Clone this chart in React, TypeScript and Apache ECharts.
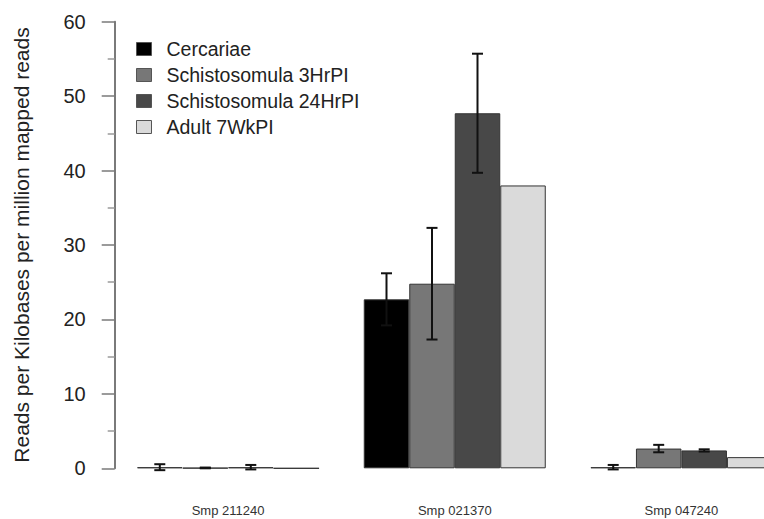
import React, { useEffect, useRef } from "react";
import * as echarts from "echarts";

const categories = ["Smp 211240", "Smp 021370", "Smp 047240"];
const seriesNames = ["Cercariae", "Schistosomula 3HrPI", "Schistosomula 24HrPI", "Adult 7WkPI"];
const cercariae = [0.15, 22.7, 0.15];
const cercariaeErr = [0.4, 3.5, 0.3];
const schisto3 = [0.05, 24.8, 2.65];
const schisto3Err = [0.05, 7.5, 0.5];
const schisto24 = [0.15, 47.7, 2.4];
const schisto24Err = [0.3, 8.0, 0.15];
const adult = [0.0, 38.0, 1.5];
const adultErr = [0, 0, 0];
const yTicks = [0, 10, 20, 30, 40, 50, 60];

const colors = ["#000000", "#777777", "#484848", "#dadada"];
const values = [cercariae, schisto3, schisto24, adult];
const errors = [cercariaeErr, schisto3Err, schisto24Err, adultErr];

const GRID_LEFT = 114.7;
const BAND = 226.7; // px per category
const BAR_W = 45.5;

export default function App() {
  const ref = useRef<HTMLDivElement>(null);
  useEffect(() => {
    document.body.style.margin = "0";
    const chart = echarts.init(ref.current!, null, { renderer: "svg" });
    const gridWidth = 764 - GRID_LEFT;
    const xMax = gridWidth / BAND;
    const barSeries = values.map((v, i) => ({
      name: seriesNames[i],
      type: "bar",
      data: v.map((val, k) => [k + 0.5, val]),
      barWidth: BAR_W,
      barGap: "0%",
      itemStyle: { color: colors[i], borderColor: "#333333", borderWidth: 1 },
    }));
    const errSeries = values.map((v, i) => ({
      name: seriesNames[i] + " err",
      type: "custom",
      z: 5,
      data: v.map((val, k) => [k + 0.5, val - errors[i][k], val + errors[i][k], errors[i][k]]),
      renderItem: (params: any, api: any) => {
        if (api.value(3) <= 0) return null;
        const cx = api.value(0);
        const lo = api.coord([cx, api.value(1)]);
        const hi = api.coord([cx, api.value(2)]);
        const x = lo[0] + (i - 1.5) * BAR_W;
        const cap = 5.5;
        const st = { stroke: "#111111", lineWidth: 2 };
        return {
          type: "group",
          children: [
            { type: "line", shape: { x1: x, y1: lo[1], x2: x, y2: hi[1] }, style: st },
            { type: "line", shape: { x1: x - cap, y1: hi[1], x2: x + cap, y2: hi[1] }, style: st },
            { type: "line", shape: { x1: x - cap, y1: lo[1], x2: x + cap, y2: lo[1] }, style: st },
          ],
        };
      },
    }));
    chart.setOption({
      animation: false,
      textStyle: { fontFamily: "Liberation Sans, Arial, sans-serif" },
      grid: { left: GRID_LEFT, top: 21.7, right: 0, height: 446.6, containLabel: false },
      legend: {
        data: seriesNames.map((n, i) => ({ name: n, itemStyle: { color: colors[i], borderColor: "#555555", borderWidth: 1 } })),
        orient: "vertical",
        left: 131,
        top: 34,
        icon: "rect",
        itemWidth: 15,
        itemHeight: 13,
        itemGap: 6,
        selectedMode: false,
        textStyle: { fontSize: 19.5, color: "#222222", padding: [0, 0, 0, 10] },
      },
      xAxis: {
        type: "value",
        min: 0,
        max: xMax,
        interval: 0.5,
        splitLine: { show: false },
        axisLine: { show: false },
        axisTick: { show: false },
        axisLabel: {
          fontSize: 13,
          color: "#333333",
          margin: 36,
          showMaxLabel: false,
          formatter: (v: number) => {
            const k = Math.round(v - 0.5);
            return Math.abs(v - 0.5 - k) < 1e-6 && k >= 0 && k < categories.length ? categories[k] : "";
          },
        },
      },
      yAxis: {
        type: "value",
        min: 0,
        max: 60,
        interval: 10,
        offset: 3,
        name: "Reads per Kilobases per million mapped reads",
        nameLocation: "middle",
        nameGap: 80,
        nameTextStyle: { fontSize: 21, color: "#222222" },
        axisLine: { show: true, lineStyle: { color: "#7a7a7a", width: 2 } },
        axisTick: { show: true, length: 13, lineStyle: { color: "#7a7a7a", width: 1.5 } },
        minorTick: { show: true, splitNumber: 2, length: 7, lineStyle: { color: "#9a9a9a", width: 1.5 } },
        splitLine: { show: false },
        axisLabel: {
          fontSize: 20,
          color: "#222222",
          margin: 26,
          formatter: (v: number) => (yTicks.includes(v) ? String(v) : ""),
        },
      },
      series: [...barSeries, ...errSeries],
    });
    return () => chart.dispose();
  }, []);
  return <div ref={ref} style={{ width: 764, height: 519 }} />;
}
